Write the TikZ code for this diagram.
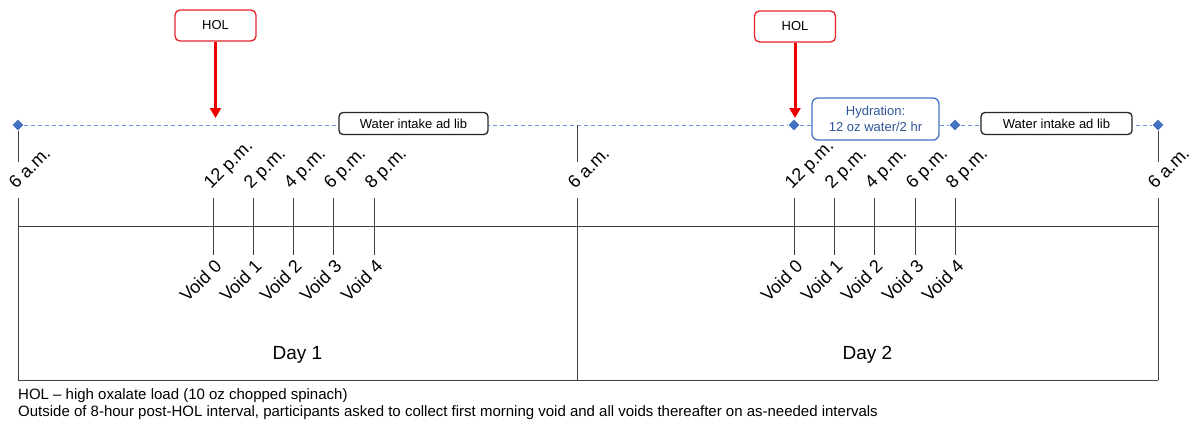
\documentclass[tikz,border=0pt]{standalone}
\usepackage{fontspec}
\setmainfont{Liberation Sans}
\usetikzlibrary{arrows.meta,shapes.geometric}
\definecolor{holred}{HTML}{E8202A}
\definecolor{arrred}{HTML}{EE0000}
\definecolor{diam}{HTML}{4472C4}
\definecolor{dashc}{HTML}{6A95DA}
\definecolor{hydblue}{HTML}{2F5597}
\definecolor{linec}{HTML}{404040}
\begin{document}
\begin{tikzpicture}[x=1pt,y=-1pt,
 axis/.style={draw=linec, line width=1pt},
 tlabel/.style={font=\fontsize{18}{18}\selectfont, rotate=45, anchor=base west, inner sep=0pt},
 vlabel/.style={font=\fontsize{18}{18}\selectfont, rotate=45, anchor=north east, inner sep=0pt},
 diamondmark/.style={diamond, fill=diam, minimum size=11pt, inner sep=0pt},
 holbox/.style={draw=holred, line width=1.3pt, rounded corners=5pt, minimum width=81pt, minimum height=31pt, font=\fontsize{13}{13}\selectfont},
 holarrow/.style={draw=arrred, line width=3pt, -{Triangle[length=10pt,width=11pt]}},
 waterbox/.style={draw=black!85, line width=1.3pt, rounded corners=4pt, fill=white, minimum width=149pt, minimum height=22pt, font=\fontsize{13}{13}\selectfont},
 hydbox/.style={draw=diam, line width=1.3pt, rounded corners=6pt, fill=white, minimum width=127pt, minimum height=42pt, align=center, text=hydblue, font=\fontsize{13}{16}\selectfont},
 dashline/.style={draw=dashc, line width=1pt, dash pattern=on 4pt off 3pt},
 daylabel/.style={font=\fontsize{19}{19}\selectfont},
 note/.style={font=\fontsize{15}{15}\selectfont, anchor=west, inner sep=0pt},
]
\useasboundingbox (0,0) rectangle (1191,423);

% dashed top line and markers
\coordinate (m0) at (577,125);
\node[diamondmark] (d1) at (18,125) {};
\node[diamondmark] (d2) at (794,125) {};
\node[diamondmark] (d3) at (955,125) {};
\node[diamondmark] (d4) at (1158,125) {};
\draw[dashline] (d1) -- (d2);
\draw[dashline] (d2) -- (d3);
\draw[dashline] (d3) -- (d4);
\node[waterbox] (w1) at (413.5,123.5) {Water intake ad lib};
\node[waterbox, minimum width=151pt] (w2) at (1056.5,123.5) {Water intake ad lib};
\node[hydbox] (hyd) at (875.5,119) {Hydration:\\12 oz water/2 hr};

% HOL boxes and arrows
\node[holbox] (hol1) at (215.5,25.5) {HOL};
\node[holbox] (hol2) at (795,26.5) {HOL};
\coordinate (tip1) at (215.5,118);
\draw[holarrow] (hol1.south) -- (tip1);
\draw[holarrow] (hol2.south) -- (hol2.south |- 0,118);

% main vertical lines
\coordinate (l1) at (18,162); \coordinate (l2) at (18,198); \coordinate (l3) at (18,380);
\coordinate (c1) at (577,162); \coordinate (c2) at (577,198); \coordinate (c3) at (577,380);
\coordinate (r1) at (1158,162); \coordinate (r2) at (1158,198); \coordinate (r3) at (1158,380);
\draw[axis] (d1) -- (l1);
\draw[axis] (l2) -- (l3);
\draw[axis] (m0) -- (c1);
\draw[axis] (c2) -- (c3);
\draw[axis] (d4) -- (r1);
\draw[axis] (r2) -- (r3);
\coordinate (h1) at (18,226); \coordinate (h2) at (1158,226);
\draw[axis] (h1) -- (h2);
\draw[axis] (l3) -- (r3);

\node[tlabel] (am1) at (16,190) {6 a.m.};
\node[tlabel] (am2) at (575,190) {6 a.m.};
\node[tlabel] (am3) at (1155,190) {6 a.m.};

% ticks and labels
\foreach \x/\t/\v [count=\i] in {213/12 p.m./Void 0, 253/2 p.m./Void 1, 293/4 p.m./Void 2, 333/6 p.m./Void 3, 374/8 p.m./Void 4,
  794/12 p.m./Void 0, 834/2 p.m./Void 1, 874/4 p.m./Void 2, 915/6 p.m./Void 3, 955/8 p.m./Void 4}{
  \coordinate (ta\i) at (\x,198);
  \coordinate (tb\i) at (\x,255);
  \draw[axis] (ta\i) -- (tb\i);
  \node[tlabel] (tl\i) at (\x-2,190) {\t};
  \node[vlabel] (vl\i) at (\x+0.5,258) {\v};
}

\node[daylabel] (day1) at (297.5,355) {Day 1};
\node[daylabel] (day2) at (867.5,355) {Day 2};

\node[note] (n1) at (18,396) {HOL – high oxalate load (10 oz chopped spinach)};
\node[note] (n2) at (18,413) {Outside of 8-hour post-HOL interval, participants asked to collect first morning void and all voids thereafter on as-needed intervals};
\end{tikzpicture}
\end{document}
